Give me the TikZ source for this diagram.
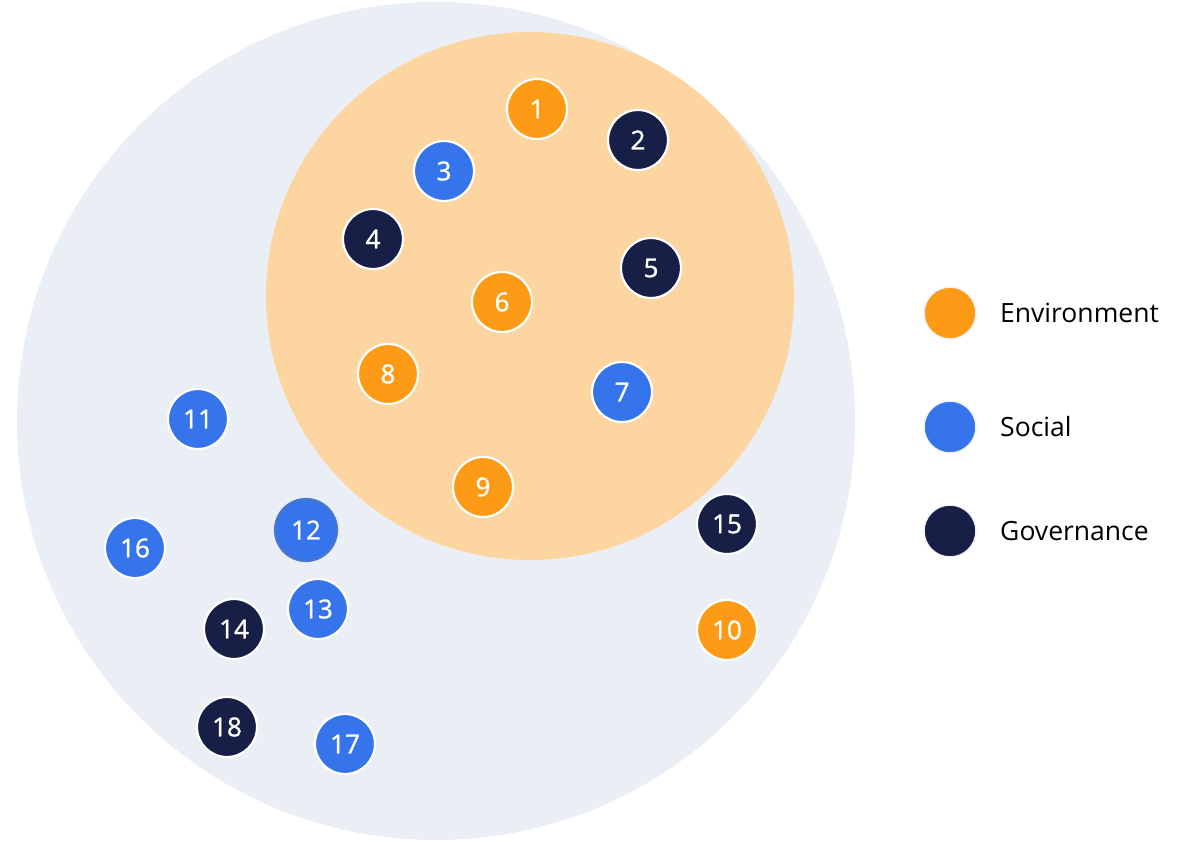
\documentclass[tikz,border=0pt]{standalone}
\usepackage{fontspec}
\setmainfont{Open Sans}
\newfontfamily\numfont[FakeBold=1.2]{Open Sans}
\definecolor{bgcirc}{HTML}{EAEFF6}
\definecolor{orcirc}{HTML}{FDD5A0}
\definecolor{envc}{HTML}{FD9B16}
\definecolor{socc}{HTML}{3574EA}
\definecolor{govc}{HTML}{171F47}
\tikzset{
  dot/.style={circle, minimum size=60pt, inner sep=0pt, draw=white, line width=2.2pt, text=white, font=\numfont\fontsize{26}{30}\selectfont},
  env/.style={dot, fill=envc},
  soc/.style={dot, fill=socc},
  gov/.style={dot, fill=govc},
  legdot/.style={circle, minimum size=52pt, inner sep=0pt, draw=white!95!blue, line width=1.5pt},
  legtxt/.style={anchor=west, inner sep=0pt, font=\fontsize{26.5}{30}\selectfont, text=black}
}
\begin{document}
\begin{tikzpicture}[x=1pt,y=-1pt]
\useasboundingbox (0,0) rectangle (1183,842);
\fill[bgcirc] (436,421) circle (419);
\fill[orcirc] (530,296) circle (264);
\node[env] (n1) at (537,109) {1};
\node[gov] (n2) at (638,140) {2};
\node[soc] (n3) at (444,171) {3};
\node[gov] (n4) at (373,239) {4};
\node[gov] (n5) at (651,268) {5};
\node[env] (n6) at (502,302) {6};
\node[soc] (n7) at (622,392) {7};
\node[env] (n8) at (388,374) {8};
\node[env] (n9) at (483,487) {9};
\node[env] (n10) at (727,630) {10};
\node[soc] (n11) at (198,419) {11};
\node[soc, draw=socc!70!gray, minimum size=62pt] (n12) at (306,530) {12};
\node[soc] (n13) at (318,609) {13};
\node[gov] (n14) at (234,629) {14};
\node[gov] (n15) at (727,524) {15};
\node[soc] (n16) at (135,548) {16};
\node[soc] (n17) at (345,744) {17};
\node[gov] (n18) at (227,727) {18};
\node[legdot, fill=envc] (l1) at (950,313) {};
\node[legdot, fill=socc] (l2) at (950,427) {};
\node[legdot, fill=govc] (l3) at (950,531) {};
\node[legtxt] (t1) at (1000,313) {Environment};
\node[legtxt] (t2) at (1000,427) {Social};
\node[legtxt] (t3) at (1000,531) {Governance};
\end{tikzpicture}
\end{document}
